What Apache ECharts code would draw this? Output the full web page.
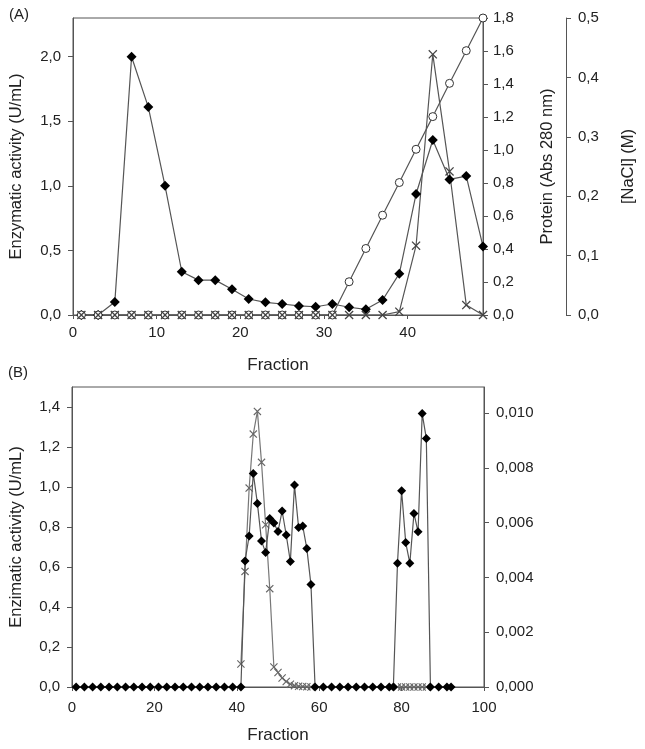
<!DOCTYPE html>
<html><head><meta charset="utf-8">
<script src="https://cdn.jsdelivr.net/npm/echarts@6/dist/echarts.min.js"></script>
<style>html,body{margin:0;padding:0;background:#fff}#c{width:645px;height:749px}</style>
</head><body><div id="c"></div>
<script>
// Panel A data
var fracA = [1,3,5,7,9,11,13,15,17,19,21,23,25,27,29,31,33,35,37,39,41,43,45,47,49];
var activityA = [0,0,0.1,2.0,1.61,1.0,0.335,0.27,0.27,0.2,0.124,0.098,0.085,0.07,0.064,0.085,0.06,0.044,0.116,0.32,0.937,1.355,1.05,1.076,0.53];
var proteinA = [0,0,0,0,0,0,0,0,0,0,0,0,0,0,0,0,0,0,0,0.02,0.42,1.58,0.87,0.06,0];
var naclA = [0,0,0,0,0,0,0,0,0,0,0,0,0,0,0,0,0.056,0.112,0.168,0.223,0.279,0.334,0.39,0.445,0.5];
// Panel B data
var fracB_act = [1,3,5,7,9,11,13,15,17,19,21,23,25,27,29,31,33,35,37,39,41,42,43,44,45,46,47,48,49,50,51,52,53,54,55,56,57,58,59,61,63,65,67,69,71,73,75,77,78,79,80,81,82,83,84,85,86,87,89,91,92];
var activityB = [0,0,0,0,0,0,0,0,0,0,0,0,0,0,0,0,0,0,0,0,0,0.63,0.755,1.068,0.918,0.73,0.672,0.843,0.82,0.777,0.88,0.76,0.627,1.01,0.797,0.805,0.692,0.512,0,0,0,0,0,0,0,0,0,0,0,0.619,0.981,0.722,0.619,0.868,0.776,1.367,1.243,0,0,0,0];
var fracB_x = [41,42,43,44,45,46,47,48,49,50,51,52,53,54,55,56,57,58,79,80,81,82,83,84,85,86];
var secondB = [0.00084,0.00422,0.00726,0.00923,0.01006,0.0082,0.00592,0.00359,0.00073,0.00053,0.00033,0.0002,0.0001,0.00005,0.00003,0.00002,0.00001,0,0,0,0,0,0,0,0,0];

function pairs(xs, ys){ return xs.map(function(x,i){ return [x, ys[i]]; }); }
function comma(d){ return function(v){ return v.toFixed(d).replace('.', ','); }; }

var XPATH = 'path://M0,1L1,0L5,4L9,0L10,1L6,5L10,9L9,10L5,6L1,10L0,9L4,5Z';
var axisCol = '#555';
var txt = '#222';
var font = 'Liberation Sans, Arial, sans-serif';

function yAx(o){
  var base = {
    type:'value', splitLine:{show:false},
    axisLine:{show:true, lineStyle:{color:axisCol, width:1}},
    axisTick:{show:true, length:5, lineStyle:{color:axisCol}},
    axisLabel:{color:txt, fontSize:15, fontFamily:font, showMaxLabel:false},
    nameLocation:'middle', nameRotate:90,
    nameTextStyle:{color:txt, fontSize:16.5, fontFamily:font}
  };
  for (var k in o){
    if (typeof o[k]==='object' && base[k] && !Array.isArray(o[k])) { for (var j in o[k]) base[k][j]=o[k][j]; }
    else base[k]=o[k];
  }
  return base;
}

var chart = echarts.init(document.getElementById('c'), null, {renderer:'canvas'});
chart.setOption({
  animation:false,
  backgroundColor:'#fff',
  textStyle:{fontFamily:font},
  graphic:[
    {type:'text', left:9, top:7, style:{text:'(A)', fontSize:15, fontFamily:font, fill:txt}},
    {type:'text', left:8, top:365, style:{text:'(B)', fontSize:15, fontFamily:font, fill:txt}}
  ],
  grid:[
    {left:68, top:18, width:416, height:297, show:true, borderColor:axisCol, borderWidth:1, backgroundColor:'transparent'},
    {left:67, top:387, width:417, height:300, show:true, borderColor:axisCol, borderWidth:1, backgroundColor:'transparent'}
  ],
  xAxis:[
    {gridIndex:0, type:'value', min:0, max:49, interval:10, splitLine:{show:false},
     axisLine:{lineStyle:{color:axisCol}}, axisTick:{length:4, lineStyle:{color:axisCol}},
     axisLabel:{color:txt, fontSize:15, fontFamily:font, margin:10, showMaxLabel:false},
     name:'Fraction', nameLocation:'middle', nameGap:42, nameTextStyle:{color:txt, fontSize:17, fontFamily:font}},
    {gridIndex:1, type:'value', min:0, max:100, interval:20, splitLine:{show:false},
     axisLine:{lineStyle:{color:axisCol}}, axisTick:{length:4, lineStyle:{color:axisCol}},
     axisLabel:{color:txt, fontSize:15, fontFamily:font, margin:13},
     name:'Fraction', nameLocation:'middle', nameGap:40, nameTextStyle:{color:txt, fontSize:17, fontFamily:font}}
  ],
  yAxis:[
    yAx({gridIndex:0, min:0, max:2.3, interval:0.5, position:'left', name:'Enzymatic activity (U/mL)', nameGap:48,
         axisLabel:{formatter:comma(1), margin:12}}),
    yAx({gridIndex:0, min:0, max:1.8, interval:0.2, position:'right', name:'Protein (Abs 280 nm)', nameGap:56,
         axisLabel:{formatter:comma(1), margin:10, showMaxLabel:true}}),
    yAx({gridIndex:0, min:0, max:0.5, interval:0.1, position:'right', offset:83, name:'[NaCl] (M)', nameGap:54,
         axisLabel:{formatter:comma(1), margin:12, showMaxLabel:true}}),
    yAx({gridIndex:1, min:0, max:1.5, interval:0.2, position:'left', name:'Enzimatic activity (U/mL)', nameGap:47,
         axisLabel:{formatter:comma(1), margin:12}}),
    yAx({gridIndex:1, min:0, max:0.01095, interval:0.002, position:'right',
         axisLabel:{formatter:comma(3), margin:12}})
  ],
  series:[
    {type:'line', xAxisIndex:0, yAxisIndex:0, data:pairs(fracA, activityA), symbol:'diamond', symbolSize:10,
     lineStyle:{color:'#555', width:1.2}, itemStyle:{color:'#000'}},
    {type:'line', xAxisIndex:0, yAxisIndex:2, data:pairs(fracA, naclA), symbol:'circle', symbolSize:8,
     lineStyle:{color:'#555', width:1.2}, itemStyle:{color:'#fff', borderColor:'#333', borderWidth:1}},
    {type:'line', xAxisIndex:0, yAxisIndex:1, data:pairs(fracA, proteinA), symbol:XPATH, symbolSize:9,
     lineStyle:{color:'#555', width:1.2}, itemStyle:{color:'#444'}},
    {type:'line', xAxisIndex:1, yAxisIndex:4, data:pairs(fracB_x, secondB), symbol:XPATH, symbolSize:8,
     lineStyle:{color:'#777', width:1.2}, itemStyle:{color:'#666'}, z:2},
    {type:'line', xAxisIndex:1, yAxisIndex:3, data:pairs(fracB_act, activityB), symbol:'diamond', symbolSize:9,
     lineStyle:{color:'#555', width:1.2}, itemStyle:{color:'#000'}, z:3}
  ]
});
</script></body></html>
